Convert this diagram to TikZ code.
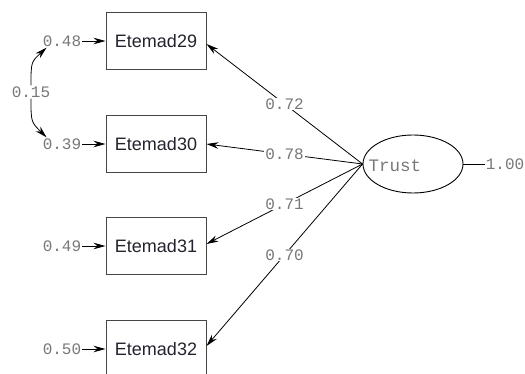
\documentclass[tikz,border=0pt]{standalone}
\usepackage{fontspec}
\setmainfont{Liberation Sans}
\newfontfamily\monofont{Liberation Mono}
\usetikzlibrary{shapes.geometric,arrows.meta}
\definecolor{lblgray}{RGB}{120,120,120}
\definecolor{boxgray}{RGB}{70,70,70}
\definecolor{txtdark}{RGB}{35,35,45}
\tikzset{
  obs/.style={draw=boxgray,line width=1pt,minimum width=100pt,minimum height=57pt,inner sep=0pt,
    font=\fontsize{18}{20}\selectfont,text=txtdark},
  lat/.style={draw=black,line width=0.9pt,ellipse,minimum width=100pt,minimum height=58pt,inner sep=0pt},
  num/.style={font=\monofont\fontsize{16}{18}\selectfont,text=lblgray,fill=white,inner sep=1pt},
  path/.style={draw=black,line width=0.8pt,-{Stealth[length=12pt,width=6.5pt]}},
  plain/.style={draw=black,line width=0.8pt}
}
\begin{document}
\begin{tikzpicture}[x=1pt,y=-1pt]
\useasboundingbox (0,0) rectangle (525,374);
\node[obs] (e29) at (156,41) {Etemad29};
\node[obs] (e30) at (156,144) {Etemad30};
\node[obs] (e31) at (156,246) {Etemad31};
\node[obs] (e32) at (156,349) {Etemad32};
\node[lat] (trust) at (413,164) {};
\node[font=\monofont\fontsize{17.5}{19}\selectfont,text=lblgray,inner sep=0pt] (trusttxt) at (395,166) {Trust};
% error variances
\node[num] (r29) at (62,41) {0.48};
\node[num] (r30) at (62,144) {0.39};
\node[num] (r31) at (62,246) {0.49};
\node[num] (r32) at (62,349) {0.50};
\draw[path] (r29) -- (e29.west);
\draw[path] (r30) -- (e30.west);
\draw[path] (r31) -- (e31.west);
\draw[path] (r32) -- (e32.west);
% covariance
\node[num] (cov) at (31,92) {0.15};
\draw[path] (cov.north) .. controls (31,62) .. ([xshift=5pt]r29.south west);
\draw[path] (cov.south) .. controls (31,122) .. ([xshift=5pt]r30.north west);
% loadings
\draw[path] (trust.west) -- node[num,pos=0.5] {0.72} ([yshift=-3pt]e29.east);
\draw[path] (trust.west) -- node[num,pos=0.5] {0.78} (e30.east);
\draw[path] (trust.west) -- node[num,pos=0.5] {0.71} ([yshift=2pt]e31.east);
\draw[path] (trust.west) -- node[num,pos=0.5] {0.70} ([yshift=3pt]e32.east);
% latent variance
\node[num] (v) at (505,164) {1.00};
\draw[plain] (trust.east) -- (v.west);
\end{tikzpicture}
\end{document}
